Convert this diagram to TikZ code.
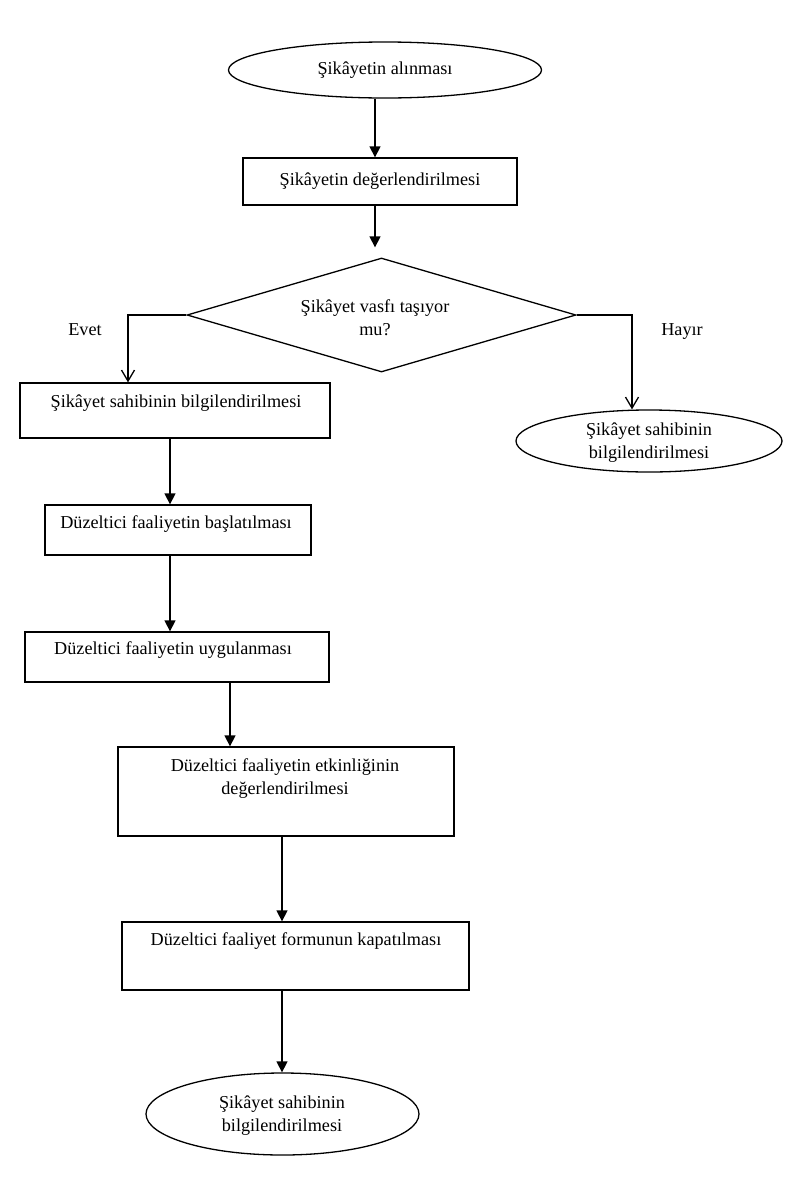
\documentclass[tikz,border=0pt]{standalone}
\usepackage{fontspec}
\setmainfont{Liberation Serif}
\usetikzlibrary{shapes.geometric,arrows.meta}
\begin{document}
\begin{tikzpicture}[x=1pt,y=-1pt,
  lw/.style={line width=1.3pt},
  boxshape/.style={draw,lw,rectangle,inner sep=0pt},
  ellshape/.style={draw,lw,ellipse,inner sep=0pt},
  dmdshape/.style={draw,lw,diamond,inner sep=0pt},
  txt/.style={inner sep=0pt,align=center,font=\fontsize{18.2}{23}\selectfont},
  arr/.style={lw,-{Triangle[length=11pt,width=11pt]}},
  openarr/.style={lw,-{Straight Barb[length=11pt,width=13pt,line width=1.3pt]}}
]
\useasboundingbox (0,0) rectangle (800,1200);
\fill[white] (0,0) rectangle (800,1200);

% shapes
\node[ellshape,minimum width=313pt,minimum height=56pt] (e1) at (385,70) {};
\node[boxshape,minimum width=274pt,minimum height=47pt] (r2) at (380,181.5) {};
\node[dmdshape,minimum width=389pt,minimum height=114pt] (d) at (381.5,315) {};
\node[boxshape,minimum width=310pt,minimum height=55pt] (r3) at (175,410.5) {};
\node[ellshape,minimum width=266pt,minimum height=62pt] (e2) at (649,441) {};
\node[boxshape,minimum width=266pt,minimum height=50pt] (r4) at (178,530) {};
\node[boxshape,minimum width=304pt,minimum height=50pt] (r5) at (177,657) {};
\node[boxshape,minimum width=336pt,minimum height=89pt] (r6) at (286,791.5) {};
\node[boxshape,minimum width=347pt,minimum height=68pt] (r7) at (295.5,956) {};
\node[ellshape,minimum width=273pt,minimum height=82pt] (e3) at (282.5,1114) {};

% texts
\node[txt] (t1) at (385,70) {Şikâyetin alınması};
\node[txt] (t2) at (380,181) {Şikâyetin değerlendirilmesi};
\node[txt] (td) at (375,318) {Şikâyet vasfı taşıyor\\mu?};
\node[txt] (t3) at (176,403) {Şikâyet sahibinin bilgilendirilmesi};
\node[txt] (te2) at (649,443) {Şikâyet sahibinin\\bilgilendirilmesi};
\node[txt] (t4) at (176,524) {Düzeltici faaliyetin başlatılması};
\node[txt] (t5) at (173,650) {Düzeltici faaliyetin uygulanması};
\node[txt] (t6) at (285,778.5) {Düzeltici faaliyetin etkinliğinin\\değerlendirilmesi};
\node[txt] (t7) at (296,941) {Düzeltici faaliyet formunun kapatılması};
\node[txt] (te3) at (282,1116) {Şikâyet sahibinin\\bilgilendirilmesi};
\node[txt] (evet) at (85,330) {Evet};
\node[txt] (hayir) at (682,331) {Hayır};

% connector x positions
\coordinate (xa) at (375,0);
\coordinate (xe) at (128,0);
\coordinate (xh) at (632,0);
\coordinate (xb) at (170,0);
\coordinate (xc) at (230,0);
\coordinate (xd) at (282,0);

% connectors
\draw[arr] (e1.south -| xa) -- (r2.north -| xa);
\draw[arr] (r2.south -| xa) -- ([yshift=10pt]d.north -| xa);
\draw[openarr] (d.west) -- (d.west -| xe) -- (r3.north -| xe);
\draw[openarr] (d.east) -- (d.east -| xh) -- (e2.north -| xh);
\draw[arr] (r3.south -| xb) -- (r4.north -| xb);
\draw[arr] (r4.south -| xb) -- (r5.north -| xb);
\draw[arr] (r5.south -| xc) -- (r6.north -| xc);
\draw[arr] (r6.south -| xd) -- (r7.north -| xd);
\draw[arr] (r7.south -| xd) -- (e3.north -| xd);
\end{tikzpicture}
\end{document}
